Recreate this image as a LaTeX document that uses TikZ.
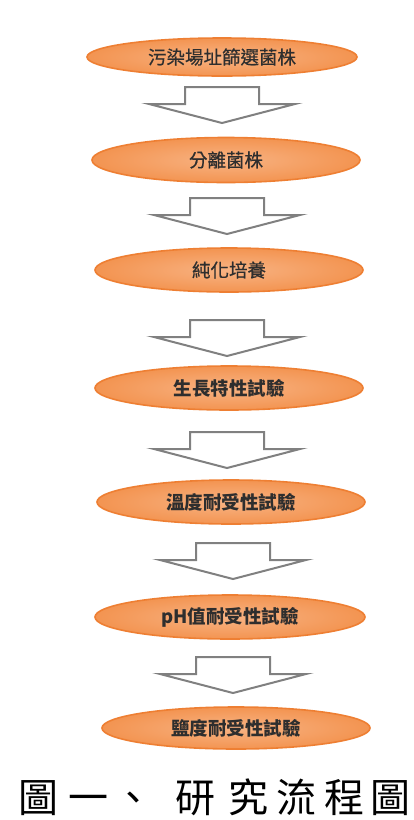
\documentclass[tikz,border=0pt]{standalone}
\usepackage{fontspec}
\setmainfont{Noto Sans CJK TC}
\newfontfamily\cjk{Noto Sans CJK TC}
\newfontfamily\cjkmed[FakeBold=0.5]{Noto Sans CJK TC}
\usetikzlibrary{shapes.geometric}
\definecolor{ellborder}{HTML}{EE7F33}
\definecolor{ellinner}{HTML}{F8B383}
\definecolor{ellouter}{HTML}{F39451}
\definecolor{arrgray}{HTML}{808080}
\definecolor{txtdark}{HTML}{2E2E2E}
\tikzset{
  stage/.style={ellipse, draw=ellborder, line width=1.6pt, inner sep=0pt,
    shading=radial, inner color=ellinner, outer color=ellouter,
    text=txtdark, font=\cjkmed\fontsize{18.5}{21}\selectfont},
  stagebold/.style={stage, font=\cjk\bfseries\fontsize{18.5}{21}\selectfont},
  arrowline/.style={draw=arrgray, line width=2pt, fill=white, line join=miter},
  blockarrow/.pic={\path[arrowline] (-37,0) -- (37,0) -- (37,17) -- (73,17) -- (0,36) -- (-73,17) -- (-37,17) -- cycle;},
  captionchar/.style={inner sep=0pt, anchor=base, font=\cjk\fontsize{40}{44}\selectfont, text=black}
}
\begin{document}
\begin{tikzpicture}[x=1pt,y=-1pt]
\useasboundingbox (0,0) rectangle (414,820);
% stages
\node[stage, minimum width=270pt, minimum height=38pt] (s1) at (222,57) {污染場址篩選菌株};
\node[stage, minimum width=268pt, minimum height=45pt] (s2) at (226,160) {分離菌株};
\node[stage, minimum width=268pt, minimum height=44pt] (s3) at (229,270) {純化培養};
\node[stagebold, minimum width=268pt, minimum height=44pt] (s4) at (229,388) {生長特性試驗};
\node[stagebold, minimum width=268pt, minimum height=44pt] (s5) at (231,502) {溫度耐受性試驗};
\node[stagebold, minimum width=270pt, minimum height=44pt] (s6) at (230,617) {pH值耐受性試驗};
\node[stagebold, minimum width=268pt, minimum height=42pt] (s7) at (236,728) {鹽度耐受性試驗};
% block arrows
\coordinate (a1) at (222,87);
\coordinate (a2) at (227,198);
\coordinate (a3) at (227,320);
\coordinate (a4) at (227,432);
\coordinate (a5) at (233,543);
\coordinate (a6) at (233,657);
\foreach \a in {a1,a2,a3,a4,a5,a6} {\pic at (\a) {blockarrow};}
% caption
\node[captionchar] (c1) at (39,812) {圖};
\node[captionchar] (c2) at (88,812) {一};
\node[captionchar] (c3) at (133,812) {、};
\node[captionchar] (c4) at (195,812) {研};
\node[captionchar] (c5) at (248,812) {究};
\node[captionchar] (c6) at (296,812) {流};
\node[captionchar] (c7) at (344,812) {程};
\node[captionchar] (c8) at (390,812) {圖};
\end{tikzpicture}
\end{document}
